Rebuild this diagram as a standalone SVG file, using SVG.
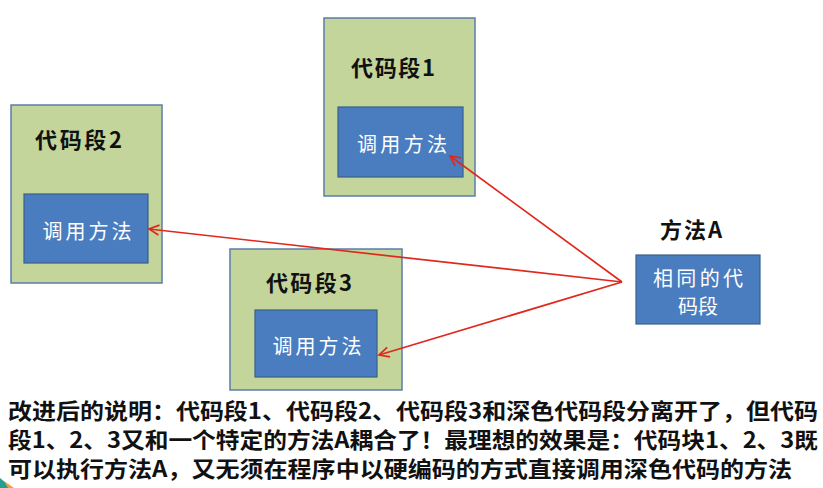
<svg xmlns="http://www.w3.org/2000/svg" width="823" height="488" viewBox="0 0 823 488">
<defs>
<style>
.outer{fill:#c3d59b;stroke:#5a7ea8;stroke-width:1.5}
.inner{fill:#4a7dbf;stroke:#3a5f8c;stroke-width:1.2}
.title{font-family:"Noto Sans CJK SC","Liberation Sans",sans-serif;font-weight:bold;font-size:22px;fill:#111}
.btn{font-family:"Noto Sans CJK SC","Liberation Sans",sans-serif;font-size:20px;fill:#fff;text-anchor:middle}
.desc{font-family:"Noto Sans CJK SC","Liberation Sans",sans-serif;font-weight:bold;font-size:22px;fill:#111}
.conn{stroke:#e0281c;stroke-width:1.7;fill:none}
</style>
<marker id="ah" markerWidth="14" markerHeight="12" refX="11" refY="6" orient="auto" markerUnits="userSpaceOnUse">
<path d="M1,1 L11,6 L1,11" fill="none" stroke="#e0281c" stroke-width="1.7"/>
</marker>
</defs>
<rect width="823" height="488" fill="#ffffff"/>
<g id="code1">
<rect class="outer" x="324" y="18" width="151" height="178"/>
<text class="title" x="351" y="76" textLength="84">代码段1</text>
<rect class="inner" x="338" y="107" width="125" height="70"/>
<text class="btn" x="402" y="152" textLength="90">调用方法</text>
</g>
<g id="code2">
<rect class="outer" x="11" y="105" width="151" height="178"/>
<text class="title" x="35" y="148" textLength="87">代码段2</text>
<rect class="inner" x="24" y="194" width="124" height="69"/>
<text class="btn" x="87" y="239" textLength="89">调用方法</text>
</g>
<g id="code3">
<rect class="outer" x="230" y="249" width="172" height="141"/>
<text class="title" x="266" y="291" textLength="86">代码段3</text>
<rect class="inner" x="255" y="310" width="122" height="67"/>
<text class="btn" x="317" y="354" textLength="89">调用方法</text>
</g>
<g id="methodA">
<text class="title" x="660" y="238" textLength="62">方法A</text>
<rect class="inner" x="636" y="255" width="124" height="69"/>
<text class="btn" x="698" y="286" textLength="90">相同的代</text>
<text class="btn" x="698" y="314">码段</text>
</g>
<g id="connectors">
<line class="conn" x1="622" y1="282" x2="450" y2="156" marker-end="url(#ah)"/>
<line class="conn" x1="622" y1="282" x2="149" y2="229" marker-end="url(#ah)"/>
<line class="conn" x1="622" y1="282" x2="379" y2="355" marker-end="url(#ah)"/>
</g>
<g id="description">
<text class="desc" x="8" y="419" textLength="810" lengthAdjust="spacingAndGlyphs">改进后的说明：代码段1、代码段2、代码段3和深色代码段分离开了，但代码</text>
<text class="desc" x="8" y="448" textLength="810" lengthAdjust="spacingAndGlyphs">段1、2、3又和一个特定的方法A耦合了！最理想的效果是：代码块1、2、3既</text>
<text class="desc" x="8" y="477" textLength="784" lengthAdjust="spacingAndGlyphs">可以执行方法A，又无须在程序中以硬编码的方式直接调用深色代码的方法</text>
</g>
<polygon points="0,478 12,488 0,488" fill="#2a9d8f"/>
<polygon points="4,481 14,488 8,488" fill="#e8a33a"/>
</svg>
